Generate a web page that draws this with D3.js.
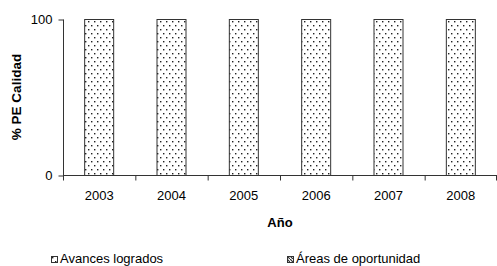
<!DOCTYPE html>
<html>
<head>
<meta charset="utf-8">
<script src="https://cdn.jsdelivr.net/npm/d3@7"></script>
<style>
  body { margin: 0; background: #fff; }
  svg { display: block; font-family: "Liberation Sans", Arial, sans-serif; }
</style>
</head>
<body>
<div id="chart"></div>
<script>
// data
const years = ['2003', '2004', '2005', '2006', '2007', '2008']
const avances = [100, 100, 100, 100, 100, 100]
const areas = [0, 0, 0, 0, 0, 0]
const yTicks = [0, 100]
const seriesNames = ['Avances logrados', 'Áreas de oportunidad']

const width = 497, height = 266
const mLeft = 63, mRight = 497, mTop = 19, mBottom = 175
const fs = 13

const svg = d3.select('#chart').append('svg')
  .attr('width', width).attr('height', height)

// fill patterns
const defs = svg.append('defs')
const dots = defs.append('pattern').attr('id', 'dots')
  .attr('patternUnits', 'userSpaceOnUse').attr('width', 6).attr('height', 8)
dots.append('rect').attr('width', 6).attr('height', 8).attr('fill', '#fff')
dots.append('rect').attr('x', 1).attr('y', 1).attr('width', 1.4).attr('height', 1.4).attr('fill', '#222')
dots.append('rect').attr('x', 4).attr('y', 5).attr('width', 1.4).attr('height', 1.4).attr('fill', '#222')

const hatch = defs.append('pattern').attr('id', 'hatch')
  .attr('patternUnits', 'userSpaceOnUse').attr('width', 3).attr('height', 3)
hatch.append('rect').attr('width', 3).attr('height', 3).attr('fill', '#fff')
hatch.append('path').attr('d', 'M0,0L3,3').attr('stroke', '#333').attr('stroke-width', 1.2)

const x = d3.scaleBand().domain(years).range([mLeft, mRight])
const y = d3.scaleLinear().domain([0, 100]).range([mBottom, mTop])
const barW = 30

// bars (stacked: avances at bottom, areas on top)
svg.append('g').selectAll('rect')
  .data(years)
  .join('rect')
  .attr('x', d => x(d) + x.bandwidth() / 2 - barW / 2 + 0.5)
  .attr('y', (d, i) => y(avances[i]) + 0.5)
  .attr('width', barW - 1)
  .attr('height', (d, i) => y(0) - y(avances[i]))
  .attr('fill', 'url(#dots)')
  .attr('stroke', '#333')
  .attr('stroke-width', 1)

svg.append('g').selectAll('rect')
  .data(years.filter((d, i) => areas[i] > 0))
  .join('rect')
  .attr('x', d => x(d) + x.bandwidth() / 2 - barW / 2 + 0.5)
  .attr('y', d => { const i = years.indexOf(d); return y(avances[i] + areas[i]) + 0.5 })
  .attr('width', barW - 1)
  .attr('height', d => { const i = years.indexOf(d); return y(avances[i]) - y(avances[i] + areas[i]) })
  .attr('fill', 'url(#hatch)')
  .attr('stroke', '#333')

// y axis
const yAxis = svg.append('g')
  .attr('transform', `translate(${mLeft + 0.5},0.5)`)
  .call(d3.axisLeft(y).tickValues(yTicks).tickSize(5).tickPadding(6))
yAxis.select('.domain').attr('d', `M0,${mTop}V${mBottom}`).attr('stroke', '#333')
yAxis.selectAll('.tick line').attr('stroke', '#333')
yAxis.selectAll('text').attr('font-size', fs).attr('fill', '#000')
  .style('font-family', '"Liberation Sans", Arial, sans-serif')

// x axis: ticks at category boundaries
const xAxis = svg.append('g')
  .attr('transform', `translate(0,${mBottom + 0.5})`)
xAxis.append('line').attr('x1', mLeft).attr('x2', mRight).attr('stroke', '#333')
xAxis.selectAll('line.t')
  .data(years.concat(['end']))
  .join('line')
  .attr('class', 't')
  .attr('x1', (d, i) => (i < years.length ? x(d) : mRight - 1) + 0.5)
  .attr('x2', (d, i) => (i < years.length ? x(d) : mRight - 1) + 0.5)
  .attr('y1', 0).attr('y2', 5)
  .attr('stroke', '#333')
xAxis.selectAll('text')
  .data(years)
  .join('text')
  .attr('x', d => x(d) + x.bandwidth() / 2)
  .attr('y', 24)
  .attr('text-anchor', 'middle')
  .attr('font-size', fs)
  .text(d => d)

// axis titles
svg.append('text')
  .attr('x', (mLeft + mRight) / 2).attr('y', 227)
  .attr('text-anchor', 'middle')
  .attr('font-size', fs).attr('font-weight', 'bold')
  .text('Año')

svg.append('text')
  .attr('transform', `translate(21,${(mTop + mBottom) / 2}) rotate(-90)`)
  .attr('text-anchor', 'middle')
  .attr('font-size', fs + 0.5).attr('font-weight', 'bold')
  .text('% PE Calidad')

// legend
const legX = [51, 287]
const leg = svg.append('g').selectAll('g')
  .data(seriesNames)
  .join('g')
  .attr('transform', (d, i) => `translate(${legX[i]},256)`)
leg.append('rect')
  .attr('x', 0.5).attr('y', 0.5).attr('width', 6).attr('height', 6)
  .attr('fill', (d, i) => i === 0 ? 'url(#dots)' : 'url(#hatch)')
  .attr('stroke', '#333')
leg.append('text')
  .attr('x', 9).attr('y', 7)
  .attr('font-size', fs)
  .text(d => d)
</script>
</body>
</html>
